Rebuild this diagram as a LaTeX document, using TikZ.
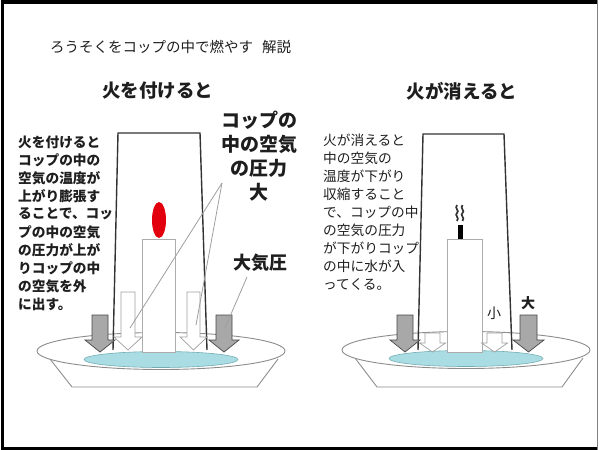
\documentclass[tikz,border=0pt]{standalone}
\usepackage{fontspec}
\newfontfamily\jp{Noto Sans CJK JP}
\usetikzlibrary{positioning, calc}
\definecolor{glassLine}{HTML}{333333}
\definecolor{dishLine}{HTML}{8C8C8C}
\definecolor{waterBlue}{HTML}{A9DCE3}
\definecolor{waterLine}{HTML}{74AEB4}
\definecolor{arrowGray}{HTML}{A8A8A8}
\definecolor{flameRed}{HTML}{E2000F}
\definecolor{textInk}{HTML}{1E1E1E}

\tikzset{
  para/.style={font=\jp\fontsize{13.7pt}{18pt}\selectfont, text=textInk, inner sep=0pt, anchor=west},
  heading/.style={font=\jp\bfseries\fontsize{18.5pt}{22pt}\selectfont, text=textInk, inner sep=0pt},
  callout/.style={font=\jp\bfseries\fontsize{19pt}{24pt}\selectfont, text=textInk, inner sep=0pt, align=center},
  smalltag/.style={font=\jp\fontsize{14pt}{16pt}\selectfont, text=textInk, inner sep=0pt},
  leader/.style={draw=gray!75, line width=0.8pt},
  glass/.style={draw=glassLine, line width=1.4pt},
  candle/.style={draw=gray!65, fill=white, line width=0.8pt},
  dish/.style={draw=dishLine, line width=0.9pt},
  airarrow/.style={draw=gray!55!black, fill=arrowGray, line width=0.7pt},
  hollowarrow/.style={draw=gray!75, fill=white, line width=0.7pt},
}

\begin{document}
\begin{tikzpicture}[x=1pt, y=-1pt]
  \useasboundingbox (0,0) rectangle (600,450);
  % frame
  \draw[line width=3.5pt] (598,1.75) -- (2.5,1.75) -- (2.5,448.25) -- (598,448.25);
  \draw[gray, line width=0.8pt] (597.6,0) -- (597.6,450);

  % title and headings
  \node[smalltag, anchor=west, font=\jp\fontsize{14.5pt}{16pt}\selectfont] (title) at (50,47) {ろうそくをコップの中で燃やす\hspace{9pt}解説};
  \node[heading] (headOn) at (157.5,91) {火を付けると};
  \node[heading] (headOff) at (462,91) {火が消えると};

  % dishes: cx/cy = centre of the rim
  \foreach \cx/\cy in {161/351, 466/350} {
    \draw[dish] ({\cx-111},{\cy+8}) -- ({\cx-89},387) -- ({\cx+96},387) -- ({\cx+117},{\cy+8});
    \draw[dish, fill=white] (\cx,\cy) ellipse [x radius=124, y radius=18.5];
    \fill[waterBlue, draw=waterLine, line width=0.6pt] (\cx,{\cy+8.5}) ellipse [x radius=77, y radius=8];
  }

  % candles
  \draw[candle] (142,239) rectangle (175,352);
  \draw[candle] (447,239) rectangle (482,352);
  \fill[flameRed] (159,220) ellipse [x radius=7, y radius=18];
  \fill[black] (458,225) rectangle (463,239);
  % smoke
  \foreach \sx in {457,462.5}
    \draw[glassLine, line width=1.7pt] (\sx,205) .. controls ({\sx-3},208.5) and ({\sx+3},210.5) .. (\sx,213)
      .. controls ({\sx-3},215.5) and ({\sx+3},217.5) .. (\sx,221);

  % glasses (open at the bottom)
  \draw[glass] (113,350) -- (118,133) -- (200,133) -- (207,350);
  \draw[glass] (418,350) -- (423,134) -- (504,134) -- (512,350);

  % air pressure outside: x/half shaft/top/neck/tip/half head
  \foreach \x/\w/\top/\neck/\tip/\hd in {100/8/315/340/352/15, 224/8/315/340/352/15,
                                        405/8/315/340/352/15, 528.5/8.5/315/340/352/15.5}
    \draw[airarrow] ({\x-\w},\top) -- ({\x+\w},\top) -- ({\x+\w},\neck) -- ({\x+\hd},\neck)
      -- (\x,\tip) -- ({\x-\hd},\neck) -- ({\x-\w},\neck) -- cycle;
  % air inside the glass
  \foreach \x/\w/\top/\neck/\tip/\hd in {128/7/292/337/350/14, 193.5/6.5/292/337/350/13.5,
                                        432.5/7.5/333/343/352/13, 494.5/7.5/333/343/352/13}
    \draw[hollowarrow] ({\x-\w},\top) -- ({\x+\w},\top) -- ({\x+\w},\neck) -- ({\x+\hd},\neck)
      -- (\x,\tip) -- ({\x-\hd},\neck) -- ({\x-\w},\neck) -- cycle;

  % explanations
  \foreach \t [count=\i] in {火を付けると, コップの中の, 空気の温度が, 上がり膨張す,
                             ることで、コッ, プの中の空気, の圧力が上が, りコップの中,
                             の空気を外, に出す。}
    \node[para, font=\jp\bfseries\fontsize{13.7pt}{18pt}\selectfont] (onText\i) at (18,{124+18*\i}) {\t};
  \foreach \t [count=\i] in {火が消えると, 中の空気の, 温度が下がり, 収縮すること,
                             で、コップの中, の空気の圧力, が下がりコップ, の中に水が入,
                             ってくる。}
    \node[para] (offText\i) at (323,{122+18*\i}) {\t};

  % callouts
  \node[callout] (inside) at (259,156) {コップの\\中の空気\\の圧力\\大};
  \node[callout, font=\jp\bfseries\fontsize{18pt}{22pt}\selectfont] (atm) at (260,263) {大気圧};
  \coordinate (pin) at (222,183);
  \coordinate (atmFoot) at (247,277);
  \coordinate (inL) at (130,328);
  \coordinate (inR) at (196,325);
  \coordinate (outR) at (225,328);
  \draw[leader] (pin) -- (inL);
  \draw[leader] (pin) -- (inR);
  \draw[leader] (atmFoot) -- (outR);

  \node[smalltag] (low) at (494,313) {小};
  \node[smalltag, font=\jp\bfseries\fontsize{14pt}{16pt}\selectfont] (high) at (528,303) {大};
\end{tikzpicture}
\end{document}
